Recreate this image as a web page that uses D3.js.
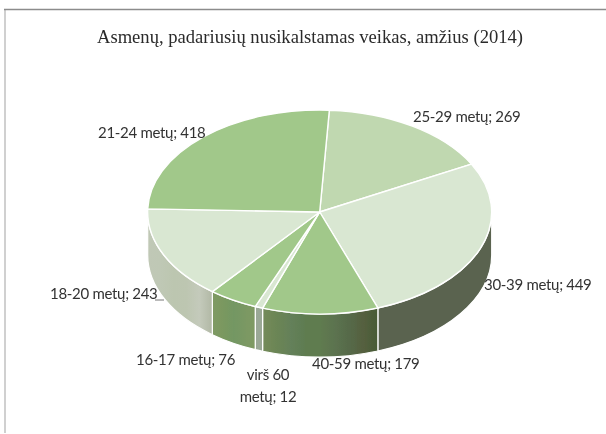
<!DOCTYPE html>
<html><head><meta charset="utf-8">
<script src="https://cdn.jsdelivr.net/npm/d3@7"></script>
<style>html,body{margin:0;padding:0;background:#fff}svg{display:block}</style>
</head><body><svg id="c" width="606" height="434"></svg>
<script>
const titleText = "Asmenų, padariusių nusikalstamas veikas, amžius (2014)";
const categories = ["25-29 metų","30-39 metų","40-59 metų","virš 60 metų","16-17 metų","18-20 metų","21-24 metų"];
const values = [269,449,179,12,76,243,418];
const topColors = ["#c0d8b0","#d9e7d2","#a1c88a","#d9e7d2","#a1c88a","#d9e7d2","#a1c88a"];
const sideBands = [
  ["#c0d8b0"],
  ["#5a6450","#5a6450"],
  ["#748b5b","#6b8555","#64805a","#5e7c50","#5f7b50","#5c7350","#566a49","#55603f","#475a35"],
  ["#9aa896","#9aa896"],
  ["#7f9a64","#7a9860","#739763","#7a9864","#7f9a64"],
  ["#c0c8b6","#bfc8b5","#bcc6b0","#bdc6b1","#c4cabb","#b1b8a5"],
  ["#a1c88a"]
];
const labelX = [413,484,312,268,136,50,98];
const labelY = [122,290,369,0,365,299,138];

const cx=319.7, cy=212, rx=172, ry=102, depth=43;
const startDeg=3.2;
const svg=d3.select("#c");
const defs=svg.append("defs");
defs.append("filter").attr("id","soft").append("feGaussianBlur").attr("stdDeviation",0.35);
const root=svg.append("g").attr("filter","url(#soft)");

// frame
root.append("line").attr("x1",5).attr("x2",5).attr("y1",10).attr("y2",433).attr("stroke","#d0d0d0").attr("stroke-width",2);
root.append("line").attr("x1",4).attr("x2",606).attr("y1",9.5).attr("y2",9.5).attr("stroke","#8c8c8c").attr("stroke-width",1.3);

root.append("text").attr("x",310).attr("y",43).attr("text-anchor","middle")
  .attr("font-family","Liberation Serif").attr("font-size",18.6).attr("fill","#2b2b2b").text(titleText);

const x=d3.scaleLinear().domain([-1,1]).range([cx-rx,cx+rx]);
const y=d3.scaleLinear().domain([-1,1]).range([cy-ry,cy+ry]);
const start=startDeg*Math.PI/180;
const pie=d3.pie().sort(null).startAngle(start).endAngle(start+2*Math.PI);
const arcs=pie(values);

// side wall
const sideG=root.append("g");
arcs.forEach((a,i)=>{
  const lo=Math.max(a.startAngle,Math.PI/2), hi=Math.min(a.endAngle,3*Math.PI/2);
  if(hi<=lo) return;
  const gid="band"+i;
  const g=defs.append("linearGradient").attr("id",gid);
  const bands=sideBands[i];
  bands.forEach((c,k)=>g.append("stop").attr("offset",bands.length>1?k/(bands.length-1):0).attr("stop-color",c));
  const px=t=>x(Math.sin(t)), py=t=>y(-Math.cos(t));
  const d=`M${px(lo)},${py(lo)}A${rx},${ry} 0 0 1 ${px(hi)},${py(hi)}L${px(hi)},${py(hi)+depth}A${rx},${ry} 0 0 0 ${px(lo)},${py(lo)+depth}Z`;
  sideG.append("path").attr("d",d).attr("fill",`url(#${gid})`).attr("stroke","#fff").attr("stroke-width",1.2);
});

// top face
const arc=d3.arc().innerRadius(0).outerRadius(1);
root.append("g").attr("transform",`translate(${cx},${cy}) scale(${rx},${ry})`)
  .selectAll("path").data(arcs).join("path")
  .attr("d",arc).attr("fill",(d,i)=>topColors[i])
  .attr("stroke","#fff").attr("stroke-width",1.4).attr("vector-effect","non-scaling-stroke");

// labels
const lab=root.append("g").attr("font-family","Lato").attr("font-size",15).attr("letter-spacing",-0.3).attr("fill","#333");
categories.forEach((c,i)=>{
  if(c.startsWith("virš")){
    const parts=c.split(" ");
    lab.append("text").attr("x",labelX[i]).attr("y",380).attr("text-anchor","middle").text(parts[0]+" "+parts[1]);
    lab.append("text").attr("x",labelX[i]).attr("y",402).attr("text-anchor","middle").text(parts[2]+"; "+values[i]);
  } else {
    lab.append("text").attr("x",labelX[i]).attr("y",labelY[i]).text(c+"; "+values[i]);
  }
});
// leader stub of the 18-20 label
root.append("line").attr("x1",155).attr("x2",164).attr("y1",300).attr("y2",300).attr("stroke","#777").attr("stroke-width",1);
</script></body></html>
